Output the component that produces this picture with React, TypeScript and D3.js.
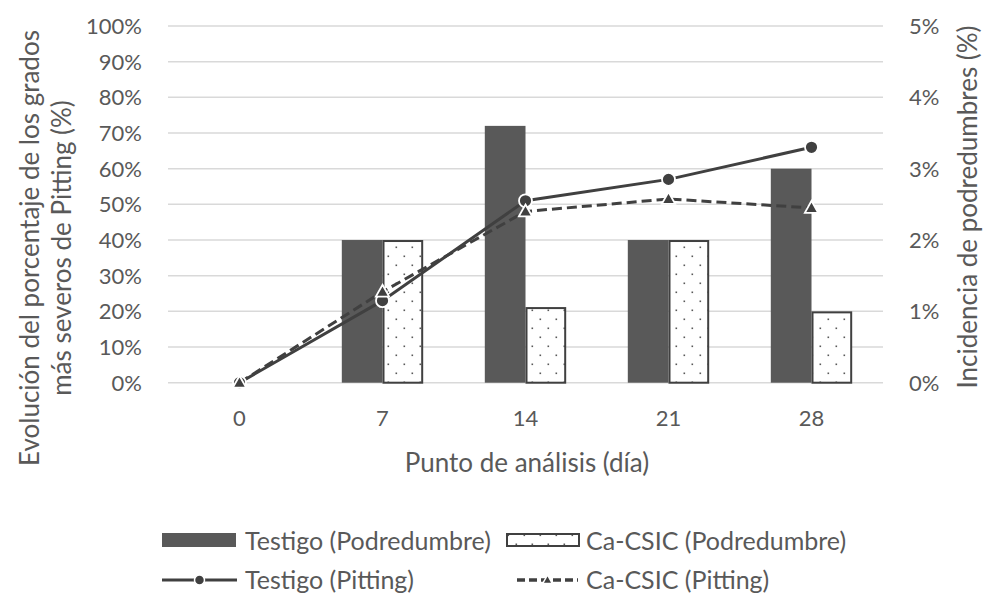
import React from "react";
import * as d3 from "d3";

const categories = ["0", "7", "14", "21", "28"];
const testigoPod = [null, 2.0, 3.6, 2.0, 3.0]; // % right axis
const caPod = [null, 2.0, 1.06, 2.0, 1.0];
const testigoPit = [0, 23, 51, 57, 66]; // % left axis
const caPit = [0, 25.5, 48, 51.5, 49];
const leftTicks = [0, 10, 20, 30, 40, 50, 60, 70, 80, 90, 100];
const rightTicks = [0, 1, 2, 3, 4, 5];

const W = 984, H = 598;
const FONT = "Lato, 'Open Sans', sans-serif";
const TXT = "#595959";
const DARK = "#595959";
const LINE = "#404040";

export default function App() {
  const x = d3.scaleBand().domain(categories).range([168, 883]).paddingInner(0).paddingOuter(0);
  const x1 = d3.scaleBand().domain(["t", "c"]).range([0, x.bandwidth()]).paddingInner(0).paddingOuter(0.757);
  const yL = d3.scaleLinear().domain([0, 100]).range([382.7, 26]);
  const yR = d3.scaleLinear().domain([0, 5]).range([382.7, 26]);
  const cx = (c: string) => (x(c) as number) + x.bandwidth() / 2;
  const line = d3.line<number>().x((_, i) => cx(categories[i])).y((d) => yL(d));

  const tri = (px: number, py: number, s: number) =>
    `M${px},${py - s}L${px + s * 0.95},${py + s * 0.7}L${px - s * 0.95},${py + s * 0.7}Z`;

  return (
    <svg width={W} height={H} style={{ position: "absolute", left: 0, top: 0, background: "#fff" }} fontFamily={FONT}>
      <defs>
        <pattern id="dots" width="16" height="18" patternUnits="userSpaceOnUse">
          <rect width="16" height="18" fill="#fff" />
          <rect x="3.5" y="3.5" width="1.6" height="1.6" fill="#595959" />
          <rect x="11.5" y="12.5" width="1.6" height="1.6" fill="#595959" />
        </pattern>
      </defs>
      {/* gridlines */}
      {leftTicks.map((t) => (
        <line key={t} x1={168} x2={883} y1={yL(t)} y2={yL(t)} stroke="#d9d9d9" strokeWidth={1.5} />
      ))}
      {/* left tick labels */}
      {leftTicks.map((t) => (
        <text key={t} x={142} y={yL(t)} dy="0.36em" textAnchor="end" fontSize={22} fill={TXT}>{t}%</text>
      ))}
      {rightTicks.map((t) => (
        <text key={t} x={909} y={yR(t)} dy="0.36em" textAnchor="start" fontSize={22} fill={TXT}>{t}%</text>
      ))}
      {categories.map((c) => (
        <text key={c} x={cx(c)} y={418} dy="0.36em" textAnchor="middle" fontSize={22} fill={TXT}>{c}</text>
      ))}
      {/* bars */}
      {categories.map((c, i) => {
        const v = testigoPod[i];
        if (v == null) return null;
        const bx = (x(c) as number) + (x1("t") as number);
        return <rect key={"t" + c} x={bx} y={yR(v)} width={x1.bandwidth()} height={yR(0) - yR(v)} fill={DARK} />;
      })}
      {categories.map((c, i) => {
        const v = caPod[i];
        if (v == null) return null;
        const bx = (x(c) as number) + (x1("c") as number);
        return (
          <rect key={"c" + c} x={bx + 1} y={yR(v) + 1} width={x1.bandwidth() - 2} height={yR(0) - yR(v) - 1}
            fill="url(#dots)" stroke={LINE} strokeWidth={2} />
        );
      })}
      {/* lines */}
      <path d={line(testigoPit) as string} fill="none" stroke={LINE} strokeWidth={3} />
      <path d={line(caPit) as string} fill="none" stroke={LINE} strokeWidth={3} strokeDasharray="10,5" />
      {testigoPit.map((v, i) => (
        <circle key={"m" + i} cx={cx(categories[i])} cy={yL(v)} r={6.5} fill={LINE} stroke="#fff" strokeWidth={1.8} />
      ))}
      {caPit.map((v, i) => (
        <path key={"tr" + i} d={tri(cx(categories[i]), yL(v), 7)} fill={LINE} stroke="#fff" strokeWidth={1.8} />
      ))}
      {/* axis titles */}
      <text transform="translate(30,248) rotate(-90)" textAnchor="middle" dy="0.35em" fontSize={26} fill={TXT}>
        Evolución del porcentaje de los grados
      </text>
      <text transform="translate(62,248) rotate(-90)" textAnchor="middle" dy="0.35em" fontSize={26} fill={TXT}>
        más severos de Pitting (%)
      </text>
      <text transform="translate(968,207) rotate(-90)" textAnchor="middle" dy="0.35em" fontSize={26} fill={TXT}>
        Incidencia de podredumbres (%)
      </text>
      <text x={527} y={463} dy="0.35em" textAnchor="middle" fontSize={26} fill={TXT}>Punto de análisis (día)</text>
      {/* legend */}
      <rect x={162} y={533} width={74} height={14} fill={DARK} />
      <text x={245} y={541} dy="0.36em" fontSize={25} fill={TXT}>Testigo (Podredumbre)</text>
      <rect x={507} y={534} width={72} height={12} fill="url(#dots)" stroke={LINE} strokeWidth={2} />
      <text x={586} y={541} dy="0.36em" fontSize={25} fill={TXT}>Ca-CSIC (Podredumbre)</text>
      <line x1={162} x2={237} y1={580} y2={580} stroke={LINE} strokeWidth={3} />
      <circle cx={199.5} cy={580} r={5} fill={LINE} stroke="#fff" strokeWidth={1.5} />
      <text x={245} y={580} dy="0.36em" fontSize={25} fill={TXT}>Testigo (Pitting)</text>
      <line x1={517} x2={578} y1={580} y2={580} stroke={LINE} strokeWidth={3.5} strokeDasharray="8,4" />
      <path d={tri(547.5, 580, 5)} fill={LINE} stroke="#fff" strokeWidth={1.5} />
      <text x={586} y={580} dy="0.36em" fontSize={25} fill={TXT}>Ca-CSIC (Pitting)</text>
    </svg>
  );
}
